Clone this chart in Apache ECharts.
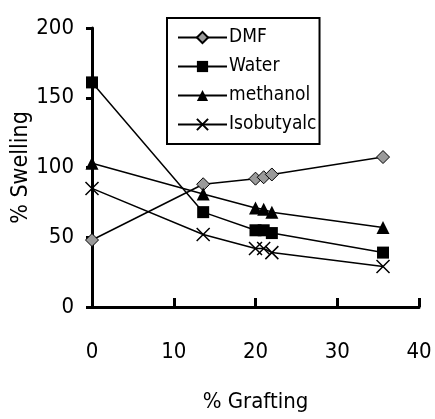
<!DOCTYPE html>
<html>
<head>
<meta charset="utf-8">
<script src="https://cdn.jsdelivr.net/npm/echarts@6/dist/echarts.min.js"></script>
<style>
  html, body { margin: 0; padding: 0; background: #fff; }
  #chart { width: 435px; height: 419px; }
</style>
</head>
<body>
<div id="chart"></div>
<script>
// % grafting values (x)
var grafting = [0, 13.6, 20, 21, 22, 35.6];
// % swelling per solvent
var dmf = [48, 88, 92, 93, 95, 107.5];
var water = [161, 68, 55, 55, 53, 39];
var methanol = [103, 81, 71, 70, 68, 57];
var isobutyalc = [85, 52, 42, 42, 39, 29];
var xTicks = [0, 10, 20, 30, 40];
var yTicks = [0, 50, 100, 150, 200];

var font = "'DejaVu Sans Condensed', 'Liberation Sans Narrow', sans-serif";

function pairs(ys) {
    return grafting.map(function (x, i) { return [x, ys[i]]; });
}

function mkSeries(name, ys, symbol, size, style) {
    return {
        name: name,
        type: 'line',
        data: pairs(ys),
        symbol: symbol,
        symbolSize: size,
        showAllSymbol: true,
        lineStyle: { color: '#000', width: 1.5 },
        itemStyle: style,
        emphasis: { disabled: true }
    };
}

var chart = echarts.init(document.getElementById('chart'));
var option = {
    animation: false,
    grid: { left: 92, right: 16, top: 28, bottom: 112, containLabel: false, outerBoundsMode: 'none' },
    legend: {
        orient: 'vertical',
        left: 167,
        top: 18,
        padding: [10, 3, 10, 10],
        itemWidth: 49,
        itemHeight: 14,
        itemGap: 10,
        borderColor: '#000',
        borderWidth: 2,
        textStyle: { fontFamily: font, fontSize: 19, color: '#000', padding: [0, 0, 0, -3] },
        data: ['DMF', 'Water', 'methanol', 'Isobutyalc']
    },
    xAxis: {
        type: 'value',
        min: 0, max: 40, interval: 10,
        name: '% Grafting',
        nameLocation: 'middle',
        nameGap: 84,
        nameMoveOverlap: false,
        nameTextStyle: { fontFamily: font, fontSize: 22, color: '#000' },
        axisLine: { lineStyle: { color: '#000', width: 3 } },
        axisTick: { inside: true, length: 9, lineStyle: { color: '#000', width: 3 } },
        axisLabel: { margin: 34, fontFamily: font, fontSize: 22, color: '#000' },
        splitLine: { show: false }
    },
    yAxis: {
        type: 'value',
        min: 0, max: 200, interval: 50,
        name: '% Swelling',
        nameLocation: 'middle',
        nameGap: 59,
        nameMoveOverlap: false,
        nameTextStyle: { fontFamily: font, fontSize: 23, color: '#000' },
        axisLine: { show: true, lineStyle: { color: '#000', width: 3 } },
        axisTick: { show: true, length: 6, lineStyle: { color: '#000', width: 3 } },
        axisLabel: { margin: 18, fontFamily: font, fontSize: 22, color: '#000' },
        splitLine: { show: false }
    },
    series: [
        mkSeries('DMF', dmf, 'diamond', 13, { color: '#9a9a9a', borderColor: '#000', borderWidth: 1 }),
        mkSeries('Water', water, 'rect', 12, { color: '#000' }),
        mkSeries('methanol', methanol, 'triangle', 13, { color: '#000' }),
        mkSeries('Isobutyalc', isobutyalc, 'path://M0,0L10,10M10,0L0,10', 13,
            { color: 'rgba(0,0,0,0)', borderColor: '#000', borderWidth: 1.5 })
    ]
};
chart.setOption(option);
</script>
</body>
</html>
